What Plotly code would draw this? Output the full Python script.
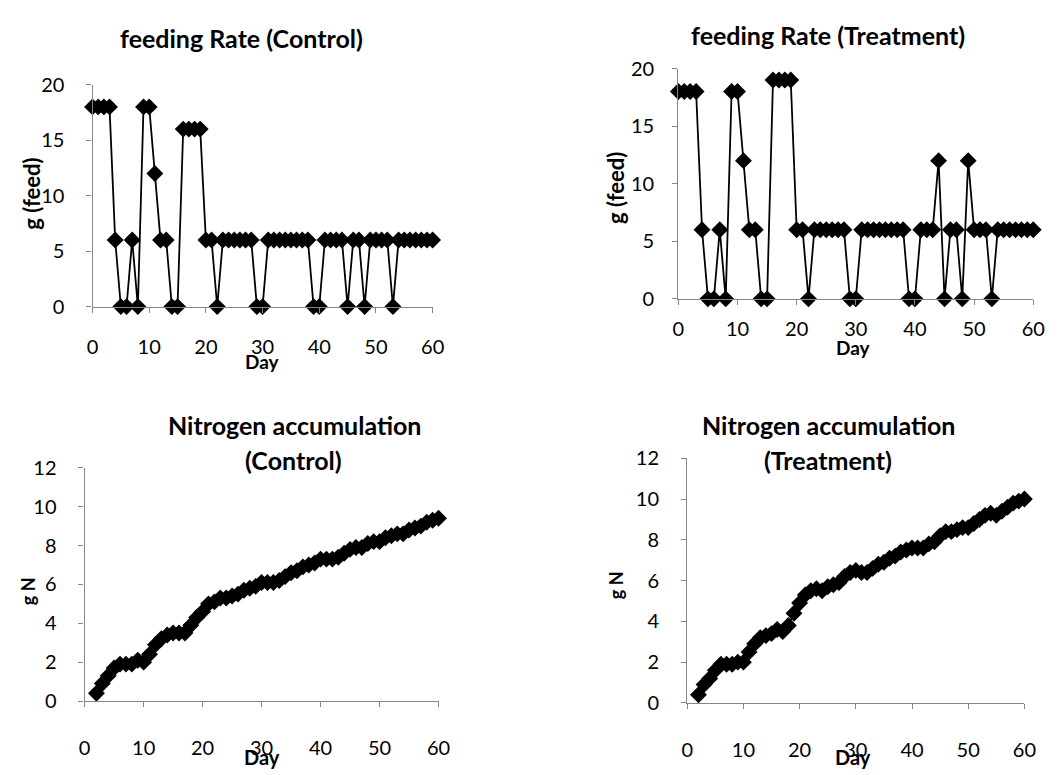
import plotly.graph_objects as go

W, H = 1059, 775

# ---- data ----
feed_days = list(range(0, 61))
feed_control = [18, 18, 18, 18, 6, 0, 0, 6, 0, 18, 18, 12, 6, 6, 0, 0,
                16, 16, 16, 16, 6, 6, 0, 6, 6, 6, 6, 6, 6, 0, 0,
                6, 6, 6, 6, 6, 6, 6, 6, 0, 0, 6, 6, 6, 6, 0, 6, 6, 0,
                6, 6, 6, 6, 0, 6, 6, 6, 6, 6, 6, 6]
feed_treatment = [18, 18, 18, 18, 6, 0, 0, 6, 0, 18, 18, 12, 6, 6, 0, 0,
                  19, 19, 19, 19, 6, 6, 0, 6, 6, 6, 6, 6, 6, 0, 0,
                  6, 6, 6, 6, 6, 6, 6, 6, 0, 0, 6, 6, 6, 12, 0, 6, 6, 0,
                  12, 6, 6, 6, 0, 6, 6, 6, 6, 6, 6, 6]

n_days = list(range(2, 61))
n_control = [0.4, 0.9, 1.3, 1.7, 1.9, 1.9, 1.9, 2.1, 2.0, 2.4, 2.9, 3.2, 3.4,
             3.5, 3.5, 3.5, 3.9, 4.3, 4.6, 5.0, 5.1, 5.3, 5.3, 5.4, 5.5, 5.7,
             5.8, 5.9, 6.1, 6.1, 6.1, 6.2, 6.4, 6.6, 6.7, 6.9, 7.0, 7.1, 7.3,
             7.3, 7.3, 7.4, 7.6, 7.8, 7.9, 7.9, 8.1, 8.2, 8.2, 8.4, 8.5, 8.6,
             8.6, 8.8, 8.9, 9.0, 9.2, 9.3, 9.4]
n_treatment = [0.4, 0.9, 1.2, 1.6, 1.9, 1.9, 1.9, 2.0, 2.0, 2.5, 2.9, 3.2, 3.3,
               3.4, 3.6, 3.5, 3.8, 4.4, 4.9, 5.3, 5.5, 5.6, 5.5, 5.7, 5.8, 5.9,
               6.2, 6.4, 6.5, 6.4, 6.4, 6.6, 6.8, 6.9, 7.1, 7.2, 7.4, 7.5, 7.6,
               7.6, 7.6, 7.8, 7.9, 8.2, 8.4, 8.4, 8.5, 8.6, 8.6, 8.8, 9.0, 9.2,
               9.3, 9.2, 9.4, 9.6, 9.8, 9.9, 10.0]

feed_ticks = [0, 5, 10, 15, 20]
n_ticks = [0, 2, 4, 6, 8, 10, 12]
day_ticks = [0, 10, 20, 30, 40, 50, 60]


def px(x):
    return x / W


def py(y):
    return 1 - y / H


AXIS_GRAY = "#868686"
FONT = "Lato"

fig = go.Figure()

series = [
    (feed_days, feed_control, "x", "y"),
    (feed_days, feed_treatment, "x2", "y2"),
    (n_days, n_control, "x3", "y3"),
    (n_days, n_treatment, "x4", "y4"),
]
for xs, ys, xa, ya in series:
    fig.add_trace(go.Scatter(
        x=xs, y=ys, xaxis=xa, yaxis=ya, mode="lines+markers",
        line=dict(color="black", width=1.8),
        marker=dict(symbol="diamond", size=13, color="black"),
        cliponaxis=False, showlegend=False,
    ))


def axis(domain, rng, tickvals, anchor, standoff):
    return dict(
        domain=domain, range=rng, tickvals=tickvals, anchor=anchor,
        showline=True, linecolor=AXIS_GRAY, linewidth=1.3,
        ticks="outside", ticklen=5, tickwidth=1.3, tickcolor=AXIS_GRAY,
        showgrid=False, zeroline=False, fixedrange=True,
        tickfont=dict(family=FONT, size=20, color="black"),
        ticklabelstandoff=standoff,
    )


layout = dict(
    width=W, height=H, margin=dict(l=0, r=0, t=0, b=0),
    paper_bgcolor="white", plot_bgcolor="white",
    xaxis=axis([px(88), px(434)], [0, 60], day_ticks, "y", 17),
    yaxis=axis([py(303), py(74)], [0, 20], feed_ticks, "x", 18),
    xaxis2=axis([px(684), px(1045)], [0, 60], day_ticks, "y2", 7),
    yaxis2=axis([py(295), py(57.3)], [0, 20], feed_ticks, "x2", 14),
    xaxis3=axis([px(80), px(440)], [0, 60], day_ticks, "y3", 24),
    yaxis3=axis([py(710), py(469.3)], [0, 12], n_ticks, "x3", 18),
    xaxis4=axis([px(693), px(1036)], [0, 60], day_ticks, "y4", 24),
    yaxis4=axis([py(712), py(459.5)], [0, 12], n_ticks, "x4", 18),
)
fig.update_layout(**layout)

texts = [
    # (text, x, y, size, angle)
    ("feeding Rate (Control)", 240, 26, 25, 0),
    ("feeding Rate (Treatment)", 836, 23, 25, 0),
    ("Nitrogen accumulation", 293, 425, 25, 0),
    ("(Control)", 292, 461, 25, 0),
    ("Nitrogen accumulation", 837, 425, 25, 0),
    ("(Treatment)", 836, 461, 25, 0),
    ("g (feed)", 26, 187, 22, -90),
    ("g (feed)", 620, 180, 22, -90),
    ("g N", 22, 597, 18, -90),
    ("g N", 620, 590, 18, -90),
    ("Day", 261, 360, 19, 0),
    ("Day", 862, 345, 19, 0),
    ("Day", 260, 768, 20, 0),
    ("Day", 862, 768, 20, 0),
]
for t, x, y, s, a in texts:
    fig.add_annotation(
        text=f"<b>{t}</b>", x=px(x), y=py(y), xref="paper", yref="paper",
        xanchor="center", yanchor="middle", showarrow=False, textangle=a,
        font=dict(family=FONT, size=s, color="black"),
    )

fig.write_html("out.html")
